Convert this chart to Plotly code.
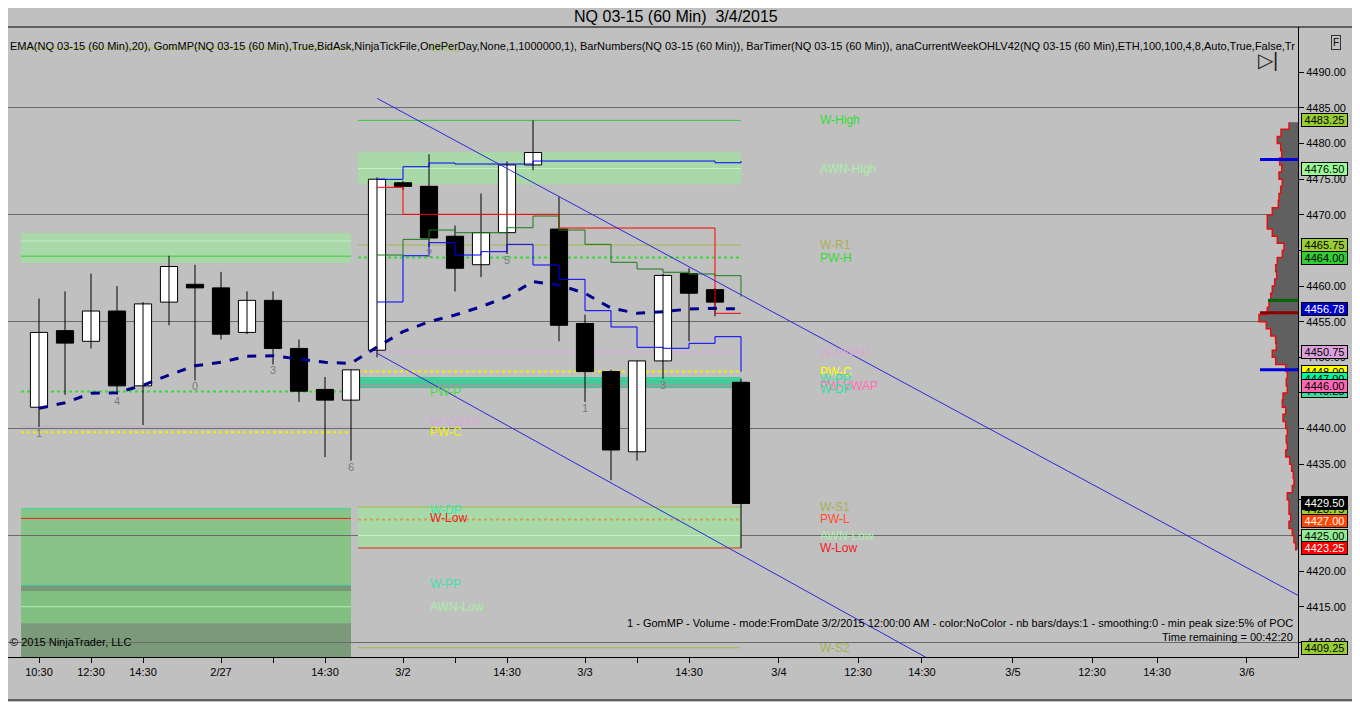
import plotly.graph_objects as go

FONT = "Arial, Liberation Sans, sans-serif"

# ---- hourly bars (bar index, OHLC) ----
bars = list(range(28))
opens = [4443.0, 4453.75, 4452.25, 4456.5, 4446.0, 4457.75, 4460.25, 4459.75, 4453.5, 4458.0,
         4451.25, 4445.5, 4444.0, 4451.0, 4474.5, 4474.0, 4467.0, 4463.0, 4467.5, 4477.0,
         4468.0, 4454.75, 4448.0, 4436.75, 4449.5, 4461.75, 4459.5, 4446.5]
highs = [4458.25, 4459.25, 4461.75, 4460.0, 4457.75, 4464.25, 4463.0, 4462.0, 4459.25, 4459.25,
         4452.5, 4447.25, 4448.25, 4475.25, 4474.75, 4478.5, 4468.5, 4473.0, 4477.5, 4483.25,
         4472.5, 4456.0, 4448.25, 4449.5, 4461.75, 4462.5, 4459.75, 4447.0]
lows = [4440.25, 4444.75, 4451.25, 4444.75, 4440.5, 4454.5, 4446.75, 4452.5, 4453.25, 4449.0,
        4443.75, 4436.0, 4435.5, 4450.0, 4473.5, 4465.5, 4459.25, 4461.25, 4464.5, 4476.25,
        4452.25, 4443.75, 4432.75, 4435.5, 4447.0, 4452.25, 4455.75, 4423.25]
closes = [4453.5, 4452.0, 4456.5, 4446.0, 4457.5, 4462.75, 4459.75, 4453.25, 4458.0, 4451.25,
          4445.25, 4444.0, 4448.25, 4475.0, 4474.0, 4466.75, 4462.5, 4467.5, 4477.0, 4478.75,
          4454.5, 4448.0, 4437.0, 4449.5, 4461.5, 4459.0, 4457.75, 4429.5]

ema20 = [4442.85, 4443.63, 4444.95, 4445.04, 4446.08, 4447.52, 4448.83, 4449.30, 4450.15, 4450.23,
         4449.77, 4449.30, 4449.16, 4451.45, 4453.60, 4455.00, 4455.94, 4457.10, 4458.51, 4460.62,
         4460.15, 4458.99, 4456.92, 4456.18, 4456.40, 4456.78, 4456.88, 4456.78]

# bar numbers
num_bars = [0, 3, 6, 9, 12, 15, 18, 21, 24]
num_text = ["1", "4", "0", "3", "6", "2", "5", "1", "3"]

# step lines of the current week (bars 13..27)
step_bars = list(range(13, 28))
blue_high = [4474.98, 4476.75, 4477.27, 4477.13, 4477.13, 4477.13, 4477.55, 4477.55, 4477.55,
             4477.55, 4477.55, 4477.55, 4477.55, 4477.31, 4477.55]
blue_low = [4457.77, 4464.26, 4466.09, 4464.36, 4464.83, 4465.86, 4462.96, 4460.95, 4456.55,
            4454.26, 4451.41, 4451.27, 4451.97, 4452.90, 4447.98]
red_step = [4473.86, 4470.07, 4470.07, 4470.07, 4470.07, 4470.07, 4470.07, 4468.15, 4468.15,
            4468.15, 4468.15, 4468.15, 4468.15, 4456.18, 4456.18]
green_step = [4464.36, 4466.56, 4467.87, 4467.49, 4467.49, 4468.19, 4469.83, 4467.87, 4465.86,
              4463.34, 4462.40, 4461.94, 4461.70, 4461.46, 4458.50]

# trend channel lines
upper_tl_x = [13, 48.5]
upper_tl_y = [4486.35, 4416.45]
lower_tl_x = [13, 40]
lower_tl_y = [4450.57, 4396.0]

# volume profile (price, width in px)
prof_price = [4483 - i for i in range(61)]
prof_width = [9, 17, 20.7, 17.3, 16.3, 18.3, 16.3, 19, 15.7, 17.3,
              19, 19.7, 25.7, 30.7, 30.7, 25.7, 20.7, 14, 15.7, 20.7,
              22.3, 21.3, 23.3, 25.7, 27.3, 29, 30.7, 39, 31.7, 27.3,
              22.3, 21.7, 25.7, 22.3, 12.3, 10.7, 11.7, 10.7, 15, 15.7,
              12.3, 15, 12.3, 10.7, 11.7, 10.7, 12.3, 8.3, 6.3, 4.7,
              4, 5.7, 10.7, 9, 9, 7.3, 9, 5.7, 4, 2.3, 1]
prof_marks = [4477.75, 4448.25, 4458.0, 4456.25]
prof_mark_len = [38, 38, 30, 38]
prof_mark_col = ["#0000dd", "#0000dd", "#006400", "#8b0000"]

# previous week levels (drawn left)
prev_span = [-0.69, 12.0]
prev_zone_top = [4467.45, 4428.8, 4418.05, 4417.2, 4412.7]
prev_zone_bot = [4463.24, 4418.05, 4417.2, 4412.7, 4400.0]
prev_zone_col = ["#a9d9a9", "#88c488", "#789878", "#80c080", "#7a9a7a"]
prev_line_y = [4493.4, 4466.33, 4464.2, 4445.2, 4440.3, 4439.5, 4428.8, 4427.4, 4418.05, 4415.0]
prev_line_col = ["#a8c048", "#c8ecc8", "#33cc33", "#33dd33", "#c8a8c8", "#f0f000",
                 "#40d8a8", "#ee2020", "#40d8a8", "#b0f0b0"]
prev_line_dash = ["solid", "solid", "solid", "dot", "solid", "dot",
                  "solid", "solid", "solid", "solid"]
prev_lab_text = ["W-R2", "PW-P", "W-VWAP", "PW-C", "W-DP", "W-Low", "W-PP", "AWN-Low", "W-S1"]
prev_lab_y = [4493.4, 4445.2, 4440.9, 4439.5, 4428.6, 4427.4, 4418.2, 4415.0, 4407.9]
prev_lab_col = ["#a8c860", "#44dd44", "#d8a8d8", "#f0f000", "#40e0b0", "#ee2020",
                "#40e0b0", "#a8f0a8", "#a8c048"]

# current week levels
cur_span = [12.27, 27.0]
cur_zone_top = [4478.8, 4447.25, 4429.0]
cur_zone_bot = [4474.3, 4445.75, 4423.1]
cur_zone_col = ["#a9d9a9", "#48c898", "#a9d9a9"]
cur_line_y = [4483.25, 4476.5, 4465.75, 4464.0, 4450.75, 4448.0, 4447.0, 4446.0, 4445.75,
              4429.0, 4427.25, 4425.0, 4423.25, 4409.25]
cur_line_col = ["#33cc33", "#c8f0c8", "#a8b848", "#33dd33", "#d8a8d8", "#f0f000", "#30e0a0",
                "#ff69b4", "#30c890", "#a8b848", "#d0a050", "#c8f0c8", "#ee2020", "#a8b848"]
cur_line_dash = ["solid", "solid", "solid", "dot", "solid", "dot", "solid", "solid", "solid",
                 "solid", "dot", "solid", "solid", "solid"]
cur_lab_text = ["W-High", "AWN-High", "W-R1", "PW-H", "W-VWAP", "PW-C", "W-PP", "PW-VWAP",
                "W-DP", "W-S1", "PW-L", "AWN-Low", "W-Low", "W-S2"]
cur_lab_y = [4483.25, 4476.5, 4465.75, 4464.0, 4450.75, 4448.0, 4447.0, 4446.0, 4445.5,
             4429.0, 4427.25, 4425.0, 4423.25, 4409.25]
cur_lab_col = ["#33dd33", "#a8f0a8", "#a8b050", "#33dd33", "#d8a8d8", "#ffff00", "#30e0a0",
               "#ff70b0", "#30e0a0", "#a8b050", "#ff5030", "#a8f0a8", "#ee2020", "#a8b050"]

# price tags on the right axis
tag_vals = [4483.25, 4476.50, 4465.75, 4464.00, 4456.78, 4450.75, 4448.00, 4447.00, 4445.25,
            4446.00, 4428.75, 4429.50, 4427.00, 4425.00, 4423.25, 4409.25]
tag_bg = ["#9acd32", "#98fb98", "#9acd32", "#32cd32", "#0000cd", "#dda0dd", "#ffff00", "#00fa9a",
          "#3cdca0", "#ff69b4", "#9acd32", "#000000", "#ff4500", "#90ee90", "#ff0000", "#9acd32"]
tag_fg = ["black", "black", "black", "black", "white", "black", "black", "black",
          "black", "black", "black", "white", "white", "black", "white", "black"]

# axis ticks
price_ticks = [4410, 4415, 4420, 4425, 4430, 4435, 4440, 4445, 4450, 4455, 4460, 4465, 4470,
               4475, 4480, 4485, 4490]
tick_pos = [0, 2, 4, 7, 9, 11, 14, 16, 18, 21, 23, 25, 28.46, 31.5, 33.96, 37.46, 40.5, 43.0, 46.46]
tick_lab = ["10:30", "12:30", "14:30", "2/27", "", "14:30", "3/2", "", "14:30", "3/3", "", "14:30",
            "3/4", "12:30", "14:30", "3/5", "12:30", "14:30", "3/6"]

fig = go.Figure()

# zones
for top, bot, col in zip(prev_zone_top, prev_zone_bot, prev_zone_col):
    fig.add_shape(type="rect", xref="x", yref="y", x0=prev_span[0], x1=prev_span[1],
                  y0=bot, y1=top, fillcolor=col, line_width=0, layer="below")
for top, bot, col in zip(cur_zone_top, cur_zone_bot, cur_zone_col):
    fig.add_shape(type="rect", xref="x", yref="y", x0=cur_span[0], x1=cur_span[1],
                  y0=bot, y1=top, fillcolor=col, line_width=0, layer="below")

# level lines
for yv, col, dash in zip(prev_line_y, prev_line_col, prev_line_dash):
    fig.add_shape(type="line", xref="x", yref="y", x0=prev_span[0], x1=prev_span[1],
                  y0=yv, y1=yv, line=dict(color=col, width=2 if dash == "dot" else 1, dash=dash),
                  layer="between")
for yv, col, dash in zip(cur_line_y, cur_line_col, cur_line_dash):
    fig.add_shape(type="line", xref="x", yref="y", x0=cur_span[0], x1=cur_span[1],
                  y0=yv, y1=yv, line=dict(color=col, width=2 if dash == "dot" else 1, dash=dash),
                  layer="between")

# volume profile on a reversed overlay axis (1 unit = 1 px)
fig.add_trace(go.Scatter(x=prof_width, y=prof_price, xaxis="x2", mode="lines",
                         line=dict(color="#e01010", width=1.5, shape="vh"),
                         fill="tozerox", fillcolor="#606060", hoverinfo="skip", showlegend=False))
for yv, ln, col in zip(prof_marks, prof_mark_len, prof_mark_col):
    fig.add_trace(go.Scatter(x=[ln, 0], y=[yv, yv], xaxis="x2", mode="lines",
                             line=dict(color=col, width=3), hoverinfo="skip", showlegend=False))

# candles: wicks then bodies
wick_x, wick_y = [], []
for i, h, l in zip(bars, highs, lows):
    wick_x += [i, i, None]
    wick_y += [l, h, None]
fig.add_trace(go.Scatter(x=wick_x, y=wick_y, mode="lines", line=dict(color="black", width=1),
                         hoverinfo="skip", showlegend=False))
body_base = [min(o, c) for o, c in zip(opens, closes)]
body_len = [max(abs(c - o), 0.12) for o, c in zip(opens, closes)]
body_col = ["white" if c > o else "black" for o, c in zip(opens, closes)]
fig.add_trace(go.Bar(x=bars, y=body_len, base=body_base, width=0.66,
                     marker=dict(color=body_col, line=dict(color="black", width=1)),
                     hoverinfo="skip", showlegend=False))

# step lines
for ys, col in [(blue_high, "#0000ff"), (blue_low, "#0000ff"), (red_step, "#ff0000"),
                (green_step, "#1a7a1a")]:
    fig.add_trace(go.Scatter(x=step_bars, y=ys, mode="lines",
                             line=dict(color=col, width=1, shape="hv"),
                             hoverinfo="skip", showlegend=False))

# EMA
fig.add_trace(go.Scatter(x=bars, y=ema20, mode="lines",
                         line=dict(color="#00008b", width=3, dash="dash"),
                         hoverinfo="skip", showlegend=False))

# trend channel
for xs, ys in [(upper_tl_x, upper_tl_y), (lower_tl_x, lower_tl_y)]:
    fig.add_trace(go.Scatter(x=xs, y=ys, mode="lines", line=dict(color="#2a2ad8", width=1),
                             hoverinfo="skip", showlegend=False))

# bar numbers
fig.add_trace(go.Scatter(x=num_bars, y=[lows[i] - 1.0 for i in num_bars], mode="text",
                         text=num_text, textfont=dict(family=FONT, size=11, color="#7a7a7a"),
                         hoverinfo="skip", showlegend=False))

# grid only axis
fig.add_trace(go.Scatter(x=[0], y=[4450], yaxis="y2", mode="markers", marker=dict(opacity=0),
                         hoverinfo="skip", showlegend=False))

annotations = []
for t, yv, col in zip(prev_lab_text, prev_lab_y, prev_lab_col):
    annotations.append(dict(x=14.96, y=yv, xref="x", yref="y", text=t, showarrow=False,
                            xanchor="left", font=dict(family=FONT, size=12, color=col)))
for t, yv, col in zip(cur_lab_text, cur_lab_y, cur_lab_col):
    annotations.append(dict(x=29.96, y=yv, xref="x", yref="y", text=t, showarrow=False,
                            xanchor="left", font=dict(family=FONT, size=12, color=col)))
for v, bg, fg in zip(tag_vals, tag_bg, tag_fg):
    annotations.append(dict(x=1, y=v, xref="paper", yref="y", text=f"{v:.2f}", showarrow=False,
                            xanchor="left", xshift=3, bgcolor=bg, bordercolor="black",
                            borderwidth=1, borderpad=0, width=45, height=12,
                            font=dict(family=FONT, size=11, color=fg)))

annotations += [
    dict(x=0, y=0.9825, xref="paper", yref="paper", xanchor="left", xshift=0, showarrow=False,
         text="EMA(NQ 03-15 (60 Min),20), GomMP(NQ 03-15 (60 Min),True,BidAsk,NinjaTickFile,"
              "OnePerDay,None,1,1000000,1), BarNumbers(NQ 03-15 (60 Min)), BarTimer(NQ 03-15 "
              "(60 Min)), anaCurrentWeekOHLV42(NQ 03-15 (60 Min),ETH,100,100,4,8,Auto,True,False,Tr",
         font=dict(family=FONT, size=11, color="black")),
    dict(x=0, y=0.011, xref="paper", yref="paper", xanchor="left", xshift=0, showarrow=False,
         text="© 2015 NinjaTrader, LLC", font=dict(family=FONT, size=11, color="black")),
    dict(x=1, y=0.0413, xref="paper", yref="paper", xanchor="right", xshift=-3, showarrow=False,
         text="1 - GomMP - Volume - mode:FromDate 3/2/2015 12:00:00 AM - color:NoColor - "
              "nb bars/days:1 - smoothing:0 - min peak size:5% of POC",
         font=dict(family=FONT, size=11, color="black")),
    dict(x=1, y=0.019, xref="paper", yref="paper", xanchor="right", xshift=-3, showarrow=False,
         text="Time remaining = 00:42:20", font=dict(family=FONT, size=11, color="black")),
    dict(x=1.0333, y=0.987, xref="paper", yref="paper", showarrow=False, text="F",
         bordercolor="#333333", borderwidth=1, borderpad=1, bgcolor="#c0c0c0",
         font=dict(family=FONT, size=10, color="black")),
    dict(x=0.986, y=0.968, xref="paper", yref="paper", showarrow=False, text="▷|",
         font=dict(family=FONT, size=20, color="#222222")),
]

# frame lines
frame = [
    dict(x0=-0.01, x1=1.06, y0=1, y1=1),
    dict(x0=-0.01, x1=1.06, y0=-0.0683, y1=-0.0683),
]
for f in frame:
    fig.add_shape(type="line", xref="paper", yref="paper", line=dict(color="black", width=1), **f)

# the page body adds an 8 px offset, so the figure is 8 px smaller on each side
fig.update_layout(
    width=1352, height=694,
    margin=dict(l=0, r=62, t=19, b=45, autoexpand=False),
    paper_bgcolor="#c0c0c0", plot_bgcolor="#c0c0c0",
    title=dict(text="NQ 03-15 (60 Min)  3/4/2015", x=0.494, xanchor="center", y=0.988,
               yanchor="middle", font=dict(family=FONT, size=16, color="black")),
    font=dict(family=FONT, size=11, color="black"),
    showlegend=False,
    xaxis=dict(range=[-1.1923, 48.423], showgrid=False, zeroline=False,
               tickvals=tick_pos, ticktext=tick_lab, ticks="outside", ticklen=5, tickcolor="black",
               showline=True, linecolor="black", linewidth=1,
               tickfont=dict(family=FONT, size=11, color="black")),
    xaxis2=dict(overlaying="x", range=[1290, 0], visible=False),
    yaxis=dict(range=[4407.95, 4496.36], side="right", showgrid=False, zeroline=False,
               tickmode="array", tickvals=price_ticks, tickformat=".2f", ticks="outside",
               ticklen=5, tickcolor="black", showline=True, linecolor="black", linewidth=1,
               tickfont=dict(family=FONT, size=11, color="black")),
    yaxis2=dict(overlaying="y", matches="y", side="right", showgrid=True, gridcolor="#6a6a6a",
                gridwidth=1, tick0=4410, dtick=15, showticklabels=False, ticks="", zeroline=False),
    annotations=annotations,
)

fig.write_html("out.html")
